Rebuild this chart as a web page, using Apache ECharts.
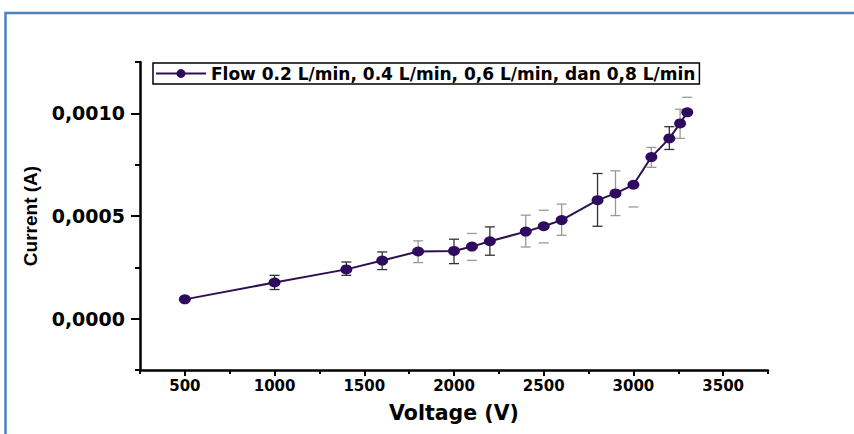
<!DOCTYPE html>
<html>
<head>
<meta charset="utf-8">
<script src="https://cdn.jsdelivr.net/npm/echarts@6/dist/echarts.min.js"></script>
<style>
html,body{margin:0;padding:0;background:#fff;}
#chart{width:854px;height:434px;}
</style>
</head>
<body>
<div id="chart"></div>
<script>
// ---- data ----
const voltage = [500, 1000, 1400, 1600, 1800, 2000, 2100, 2200, 2400, 2500, 2600, 2800, 2900, 3000, 3100, 3200, 3260, 3300];
const current = [0.000094, 0.000176, 0.000240, 0.000283, 0.000327, 0.000330, 0.000351, 0.000377, 0.000424, 0.000450, 0.000480, 0.000577, 0.000610, 0.000652, 0.000787, 0.000878, 0.000951, 0.001005];
// error bars: [voltage, low, high]
const darkBars = [[1000, 0.000142, 0.000211], [1400, 0.000211, 0.000276], [1600, 0.000239, 0.000325], [2000, 0.000268, 0.000387], [2200, 0.000309, 0.000447], [2800, 0.000450, 0.000707], [3200, 0.000824, 0.000935]];
const grayBars = [[1800, 0.000273, 0.000379], [2400, 0.000349, 0.000504], [2600, 0.000406, 0.000558], [2900, 0.000502, 0.000720], [3100, 0.000737, 0.000834], [3260, 0.000878, 0.001020]];
const grayCaps = [[2100, 0.000284, 0.000415], [2500, 0.000369, 0.000528], [3000, 0.000544, null], [3300, null, 0.001078]];
const xLabelValues = [500, 1000, 1500, 2000, 2500, 3000, 3500];
const xMinorValues = [250, 750, 1250, 1750, 2250, 2750, 3250, 3750];
const yLabelValues = [0, 0.0005, 0.0010];
const yMinorValues = [-0.00025, 0.00025, 0.00075, 0.00125];
const seriesName = 'Flow 0.2 L/min, 0.4 L/min, 0,6 L/min, dan 0,8 L/min';

const chart = echarts.init(document.getElementById('chart'), null, {renderer: 'svg'});

function errRender(color, stem) {
  return function (params, api) {
    const x = api.value(0);
    const lo = api.value(1);
    const hi = api.value(2);
    const children = [];
    const hw = 5;
    let pLo = null, pHi = null;
    if (lo != null && !isNaN(lo)) pLo = api.coord([x, lo]);
    if (hi != null && !isNaN(hi)) pHi = api.coord([x, hi]);
    const st = {stroke: color, lineWidth: 1.3};
    if (stem && pLo && pHi) {
      children.push({type: 'line', shape: {x1: pLo[0], y1: pLo[1], x2: pHi[0], y2: pHi[1]}, style: st});
    }
    if (pLo) children.push({type: 'line', shape: {x1: pLo[0] - hw, y1: pLo[1], x2: pLo[0] + hw, y2: pLo[1]}, style: st});
    if (pHi) children.push({type: 'line', shape: {x1: pHi[0] - hw, y1: pHi[1], x2: pHi[0] + hw, y2: pHi[1]}, style: st});
    return {type: 'group', children: children};
  };
}

const fontW = 'DejaVu Sans';
const axisLineStyle = {color: '#000', width: 2.5};

chart.setOption({
  animation: false,
  backgroundColor: '#fff',
  grid: {left: 140, right: 86, top: 62, bottom: 64},
  legend: {
    left: 153, top: 63,
    data: [seriesName],
    itemWidth: 50, itemHeight: 11,
    padding: [2, 4, 2, 2],
    borderColor: '#000', borderWidth: 1.5,
    backgroundColor: '#fff',
    textStyle: {fontFamily: fontW, fontWeight: 'bold', fontSize: 17, color: '#000'}
  },
  xAxis: [{
    type: 'value', min: 250, max: 3750, interval: 250,
    name: 'Voltage (V)', nameLocation: 'middle', nameGap: 32,
    nameTextStyle: {fontFamily: fontW, fontWeight: 'bold', fontSize: 20.5, color: '#000'},
    axisLine: {show: true, onZero: false, lineStyle: axisLineStyle},
    axisTick: {show: true, customValues: xLabelValues, length: 6, lineStyle: {color: '#000', width: 2}},
    axisLabel: {customValues: xLabelValues, margin: 8, fontFamily: fontW, fontWeight: 'bold', fontSize: 15, color: '#000',
      formatter: function (v) { return String(v); }},
    splitLine: {show: false}
  }, {
    type: 'value', min: 250, max: 3750, interval: 250, position: 'bottom',
    axisLine: {show: false, onZero: false},
    axisTick: {show: true, customValues: xMinorValues, length: 4, lineStyle: {color: '#000', width: 2}},
    axisLabel: {show: false},
    splitLine: {show: false}
  }],
  yAxis: [{
    type: 'value', min: -0.00025, max: 0.00125, interval: 0.00025,
    name: 'Current (A)', nameLocation: 'middle', nameGap: 100, nameRotate: 90,
    nameTextStyle: {fontFamily: 'Liberation Sans', fontWeight: 'bold', fontSize: 19, color: '#000'},
    axisLine: {show: true, onZero: false, lineStyle: axisLineStyle},
    axisTick: {show: true, customValues: yLabelValues, length: 9, lineStyle: {color: '#000', width: 2}},
    axisLabel: {
      customValues: yLabelValues, margin: 15,
      fontFamily: fontW, fontWeight: 'bold', fontSize: 19, color: '#000',
      formatter: function (v) { return v.toFixed(4).replace('.', ','); }
    },
    splitLine: {show: false}
  }, {
    type: 'value', min: -0.00025, max: 0.00125, interval: 0.00025, position: 'left',
    axisLine: {show: false, onZero: false},
    axisTick: {show: true, customValues: yMinorValues, length: 5, lineStyle: {color: '#000', width: 2}},
    axisLabel: {show: false},
    splitLine: {show: false}
  }],
  graphic: [{
    type: 'polyline', silent: true,
    shape: {points: [[5.5, 434], [5.5, 13], [854, 13]]},
    style: {stroke: '#4f81bd', lineWidth: 2.5, fill: null}
  }],
  series: [{
    type: 'custom', name: 'darkErr', renderItem: errRender('#333', true),
    data: darkBars, encode: {x: 0, y: [1, 2]}, z: 2, silent: true
  }, {
    type: 'custom', name: 'grayErr', renderItem: errRender('#999', true),
    data: grayBars, encode: {x: 0, y: [1, 2]}, z: 2, silent: true
  }, {
    type: 'custom', name: 'grayCaps', renderItem: errRender('#999', false),
    data: grayCaps, encode: {x: 0, y: [1, 2]}, z: 2, silent: true
  }, {
    type: 'line', name: seriesName,
    data: voltage.map((v, i) => [v, current[i]]),
    symbol: 'circle', symbolSize: [12, 10],
    lineStyle: {color: '#2b1150', width: 2},
    itemStyle: {color: '#2e0b5e'},
    z: 3
  }]
});
</script>
</body>
</html>
